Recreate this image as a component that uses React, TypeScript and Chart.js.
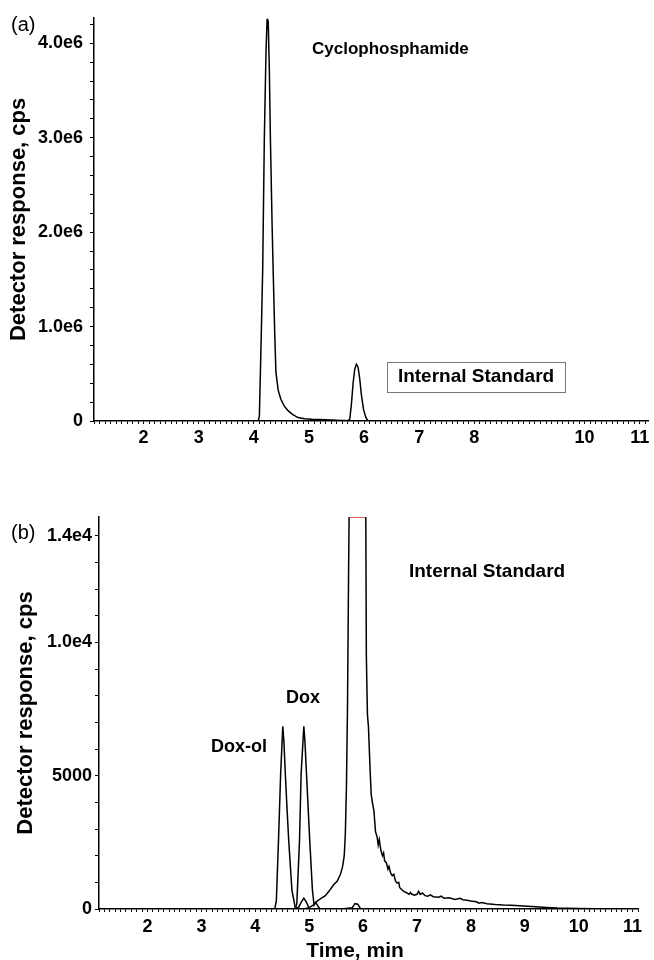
import React, { useEffect, useRef } from 'react';
import { Chart, registerables } from 'chart.js';

Chart.register(...registerables);

const FONT = '"Liberation Sans", Arial, Helvetica, sans-serif';

// ---------- Panel (a): cyclophosphamide (values in 1e6 cps) ----------
const cycloTime = [1.1, 4.0, 4.08, 4.10, 4.13, 4.16, 4.19, 4.22, 4.24, 4.25, 4.26, 4.28, 4.30, 4.33, 4.35, 4.38, 4.40, 4.44, 4.49, 4.55, 4.62, 4.70, 4.80, 4.92, 5.05, 5.3, 5.6, 6.0, 11.15];
const cycloResp = [0, 0, 0, 0.05, 0.8, 1.6, 3.0, 3.9, 4.26, 4.15, 4.24, 3.75, 3.0, 2.1, 1.6, 0.9, 0.52, 0.33, 0.23, 0.16, 0.11, 0.07, 0.036, 0.025, 0.018, 0.012, 0.006, 0, 0];
const isTimeA = [1.1, 5.70, 5.74, 5.77, 5.80, 5.83, 5.86, 5.89, 5.92, 5.95, 5.99, 6.03, 6.07, 11.15];
const isRespA = [0, 0, 0.02, 0.18, 0.4, 0.55, 0.6, 0.57, 0.45, 0.28, 0.12, 0.04, 0, 0];

const xTickValuesA = [2, 3, 4, 5, 6, 7, 8, 10, 11];
const yTickValuesA = [0, 1e6, 2e6, 3e6, 4e6];
const yTickTextA = ['0', '1.0e6', '2.0e6', '3.0e6', '4.0e6'];
const X_MIN_A = 1.1;
const X_MAX_A = 11.15;
const Y_MAX_A = 4.27e6;
const Y_MINOR_A = 2e5;

// ---------- Panel (b): Dox-ol, Dox, internal standard (values in 1e3 cps) ----------
const doxolTime = [1.1, 4.36, 4.39, 4.43, 4.47, 4.51, 4.53, 4.557, 4.59, 4.62, 4.68, 4.74, 4.80, 4.85, 4.90, 4.95, 5.00, 5.6, 5.80, 5.85, 5.90, 5.95, 11.1];
const doxolResp = [0, 0, 0.3, 2.56, 5.06, 6.85, 6.3, 5.06, 3.7, 2.56, 0.69, 0.06, 0.05, 0.25, 0.41, 0.25, 0.02, 0, 0.05, 0.2, 0.18, 0.02, 0];
const doxTime = [1.1, 4.74, 4.77, 4.82, 4.85, 4.90, 4.92, 4.95, 5.01, 5.06, 5.09, 5.12, 5.16, 5.2, 11.1];
const doxResp = [0, 0, 0.2, 2.56, 5.06, 6.85, 6.3, 5.06, 2.56, 0.7, 0.15, 0.25, 0.12, 0, 0];
const isTimeB = [1.1, 4.9, 5.0, 5.08, 5.15, 5.22, 5.30, 5.38, 5.45, 5.52, 5.58, 5.62, 5.65, 5.67, 5.69, 5.71, 5.73, 5.74, 6.05, 6.06, 6.08, 6.10, 6.13, 6.15, 6.18, 6.20, 6.23, 6.26, 6.28, 6.30, 6.33, 6.36, 6.38, 6.40, 6.43, 6.46, 6.48, 6.51, 6.54, 6.57, 6.60, 6.63, 6.66, 6.68, 6.72, 6.76, 6.80, 6.85, 6.88, 6.90, 6.95, 7.0, 7.03, 7.06, 7.1, 7.15, 7.2, 7.25, 7.3, 7.4, 7.45, 7.5, 7.6, 7.7, 7.8, 7.85, 7.9, 8.0, 8.1, 8.15, 8.2, 8.3, 8.45, 8.6, 8.75, 8.9, 9.05, 9.2, 9.4, 9.6, 9.8, 10.0, 10.3, 11.1];
const isRespB = [0, 0, 0.05, 0.15, 0.3, 0.4, 0.5, 0.7, 0.9, 1.05, 1.3, 1.6, 2.0, 2.8, 4.5, 7.5, 12.5, 14.7, 14.7, 9.5, 7.3, 6.8, 5.2, 4.3, 3.9, 3.7, 2.9, 2.7, 2.4, 2.6, 2.2, 2.0, 2.1, 1.8, 1.75, 1.5, 1.6, 1.35, 1.25, 1.3, 1.05, 0.97, 1.0, 0.8, 0.72, 0.65, 0.62, 0.55, 0.62, 0.56, 0.52, 0.55, 0.66, 0.55, 0.6, 0.5, 0.48, 0.53, 0.46, 0.44, 0.48, 0.4, 0.42, 0.36, 0.4, 0.35, 0.34, 0.3, 0.27, 0.22, 0.24, 0.2, 0.17, 0.15, 0.14, 0.12, 0.1, 0.08, 0.06, 0.04, 0.03, 0.02, 0.01, 0];

const xTickValuesB = [2, 3, 4, 5, 6, 7, 8, 9, 10, 11];
const yTickValuesB = [0, 5000, 10000, 14000];
const yTickTextB = ['0', '5000', '1.0e4', '1.4e4'];
const X_MIN_B = 1.1;
const X_MAX_B = 11.1;
const Y_MAX_B = 14700;
const Y_MINOR_B = 1000;
const X_MINOR = 0.1;

const pts = (t: number[], v: number[], k: number) => t.map((x, i) => ({ x, y: v[i] * k }));

// minor tick positions along an axis (axis decoration only)
const tickGrid = (min: number, max: number, step: number) => {
  const out: number[] = [];
  const start = Math.ceil(min / step - 1e-9);
  for (let k = start; k * step <= max + 1e-9; k++) out.push(Math.round(k * step * 1e6) / 1e6);
  return out;
};

const labelFor = (v: number, vals: number[], texts: string[], tol: number) => {
  const i = vals.findIndex((a) => Math.abs(a - v) < tol);
  return i >= 0 ? texts[i] : '';
};

type Annot = { text: string; x: number; y: number; size: number; weight: string; align: CanvasTextAlign; box?: boolean };
type Fixed = { text: string; px: number; py: number; size: number; weight: string; align: CanvasTextAlign };

const annotPlugin = (items: Annot[], fixed: Fixed[]) => ({
  id: 'annot',
  afterDraw(chart: any) {
    const { ctx } = chart;
    const xs = chart.scales.x;
    const ys = chart.scales.y;
    ctx.save();
    ctx.fillStyle = '#000';
    ctx.textBaseline = 'middle';
    items.forEach((it) => {
      const px = xs.getPixelForValue(it.x);
      const py = ys.getPixelForValue(it.y);
      ctx.font = `${it.weight} ${it.size}px ${FONT}`;
      ctx.textAlign = it.align;
      ctx.fillText(it.text, px, py);
      if (it.box) {
        const w = ctx.measureText(it.text).width;
        const left = it.align === 'center' ? px - w / 2 : px;
        ctx.strokeStyle = '#777';
        ctx.lineWidth = 1;
        ctx.strokeRect(Math.round(left - 11) + 0.5, Math.round(py - 15) + 0.5, Math.round(w + 22), 30);
      }
    });
    fixed.forEach((f) => {
      ctx.font = `${f.weight} ${f.size}px ${FONT}`;
      ctx.textAlign = f.align;
      ctx.fillText(f.text, f.px, f.py);
    });
    ctx.restore();
  },
});

const axisCommon = (tickLen: number) => ({
  border: { display: true, color: '#000', width: 1.5 },
  grid: { display: true, drawOnChartArea: false, drawTicks: true, tickLength: tickLen, color: '#000', lineWidth: 1 },
});

const tickFont = { family: FONT, size: 18, weight: 'bold' as const };

function makeConfig(panel: 'a' | 'b'): any {
  const isA = panel === 'a';
  const datasets = isA
    ? [
        { data: pts(cycloTime, cycloResp, 1e6) },
        { data: pts(isTimeA, isRespA, 1e6) },
      ]
    : [
        { data: pts(isTimeB, isRespB, 1000) },
        { data: pts(doxolTime, doxolResp, 1000) },
        { data: pts(doxTime, doxResp, 1000) },
      ];
  const xMin = isA ? X_MIN_A : X_MIN_B;
  const xMax = isA ? X_MAX_A : X_MAX_B;
  const yMax = isA ? Y_MAX_A : Y_MAX_B;
  const yStep = isA ? Y_MINOR_A : Y_MINOR_B;
  const xTicks = tickGrid(xMin, xMax, X_MINOR);
  const yTicks = tickGrid(0, yMax, yStep);
  const annots: Annot[] = isA
    ? [
        { text: 'Cyclophosphamide', x: 5.055, y: 3.94e6, size: 17, weight: 'bold', align: 'left' },
        { text: 'Internal Standard', x: 8.03, y: 0.464e6, size: 19, weight: 'bold', align: 'center', box: true },
      ]
    : [
        { text: 'Internal Standard', x: 6.85, y: 12640, size: 19, weight: 'bold', align: 'left' },
        { text: 'Dox', x: 4.57, y: 7910, size: 18, weight: 'bold', align: 'left' },
        { text: 'Dox-ol', x: 3.18, y: 6070, size: 18, weight: 'bold', align: 'left' },
      ];
  const fixed: Fixed[] = isA
    ? [{ text: '(a)', px: 11, py: 25, size: 20, weight: 'normal', align: 'left' }]
    : [
        { text: '(b)', px: 11, py: 63, size: 20, weight: 'normal', align: 'left' },
        { text: 'Time, min', px: 355, py: 481, size: 21, weight: 'bold', align: 'center' },
      ];
  return {
    type: 'line',
    data: {
      datasets: datasets.map((d) => ({
        ...d,
        borderColor: '#000',
        borderWidth: 1.5,
        pointRadius: 0,
        tension: 0,
        fill: false,
        segment: {
          borderColor: (c: any) => (c.p0.parsed.y >= yMax - 1 && c.p1.parsed.y >= yMax - 1 ? '#d9342b' : '#000'),
        },
      })),
    },
    options: {
      animation: false,
      responsive: false,
      maintainAspectRatio: false,
      layout: { padding: isA ? { left: 0, top: 16, right: 6, bottom: 0 } : { left: 0, top: 47, right: 16, bottom: 0 } },
      plugins: { legend: { display: false }, tooltip: { enabled: false }, title: { display: false } },
      scales: {
        x: {
          type: 'linear',
          min: xMin,
          max: xMax,
          afterBuildTicks: (s: any) => {
            s.ticks = xTicks.map((value) => ({ value }));
          },
          afterFit: (s: any) => {
            s.height = isA ? 49 : 51;
          },
          ...axisCommon(3),
          ticks: {
            autoSkip: false,
            maxRotation: 0,
            minRotation: 0,
            padding: isA ? 3 : 4,
            color: '#000',
            font: tickFont,
            callback: (v: number) => {
              const vals = isA ? xTickValuesA : xTickValuesB;
              return labelFor(v, vals, vals.map(String), 1e-6);
            },
          },
        },
        y: {
          type: 'linear',
          min: 0,
          max: yMax,
          afterBuildTicks: (s: any) => {
            s.ticks = yTicks.map((value) => ({ value }));
          },
          afterFit: (s: any) => {
            s.width = isA ? 94 : 99;
          },
          ...axisCommon(4),
          ticks: {
            autoSkip: false,
            padding: isA ? 7 : 3,
            color: '#000',
            font: tickFont,
            callback: (v: number) =>
              isA ? labelFor(v, yTickValuesA, yTickTextA, 1) : labelFor(v, yTickValuesB, yTickTextB, 0.01),
          },
          title: {
            display: true,
            text: 'Detector response, cps',
            color: '#000',
            font: { family: FONT, size: 22, weight: 'bold' },
            padding: { top: isA ? 6 : 13, bottom: 0 },
          },
        },
      },
    },
    plugins: [annotPlugin(annots, fixed)],
  };
}

function Panel({ panel, top, height }: { panel: 'a' | 'b'; top: number; height: number }) {
  const ref = useRef<HTMLCanvasElement | null>(null);
  useEffect(() => {
    if (!ref.current) return;
    const chart = new Chart(ref.current, makeConfig(panel));
    return () => chart.destroy();
  }, [panel]);
  return (
    <canvas
      ref={ref}
      width={654}
      height={height}
      style={{ position: 'absolute', left: 0, top, width: 654, height, display: 'block' }}
    />
  );
}

export default function App() {
  return (
    <div style={{ position: 'absolute', left: 0, top: 0, width: 654, height: 960, background: '#fff', overflow: 'hidden' }}>
      <Panel panel="a" top={0} height={470} />
      <Panel panel="b" top={470} height={490} />
    </div>
  );
}
